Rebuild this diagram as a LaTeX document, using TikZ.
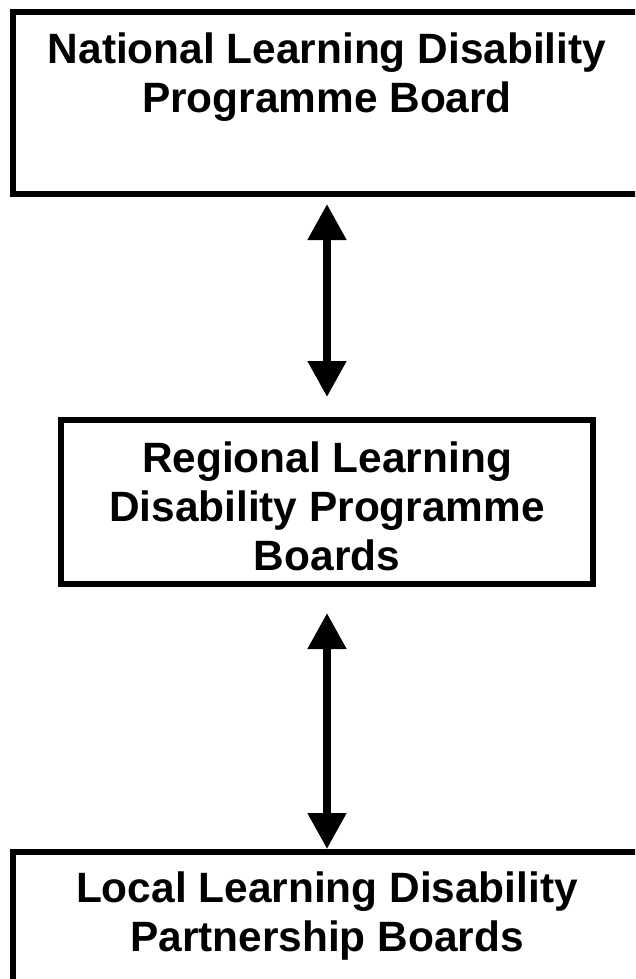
\documentclass[tikz,border=0pt]{standalone}
\usepackage{fontspec}
\setmainfont{Liberation Sans}
\usetikzlibrary{arrows.meta}
\begin{document}
\begin{tikzpicture}[x=1pt,y=-1pt,
  boardbox/.style={draw=black, line width=6pt, rectangle, inner sep=0pt},
  boardtext/.style={align=center, anchor=base, inner sep=0pt, font=\fontsize{42.4}{49}\selectfont\bfseries},
  twoway/.style={line width=8pt, {Triangle[length=36pt,width=37pt]}-{Triangle[length=36pt,width=37pt]}}]
\useasboundingbox (0,0) rectangle (635,979);
\clip (0,0) rectangle (635,979);
\fill[white] (0,0) rectangle (635,979);
% boxes
\node[boardbox, minimum width=628pt, minimum height=182pt] (national) at (327,103) {};
\node[boardbox, minimum width=532pt, minimum height=164pt] (regional) at (327,502) {};
\node[boardbox, minimum width=628pt, minimum height=200pt] (local) at (327,952) {};
% texts (base anchor = baseline of last line)
\node[boardtext] (nattext) at (327,113) {National Learning Disability\\Programme Board};
\node[boardtext] (regtext) at (327,570) {Regional Learning\\Disability Programme\\Boards};
\node[boardtext] (loctext) at (327,951) {Local Learning Disability\\Partnership Boards};
% connectors
\draw[twoway, shorten <=7pt, shorten >=20pt] (national.south) -- (regional.north);
\draw[twoway, shorten <=26pt, shorten >=0pt] (regional.south) -- (local.north);
\end{tikzpicture}
\end{document}
